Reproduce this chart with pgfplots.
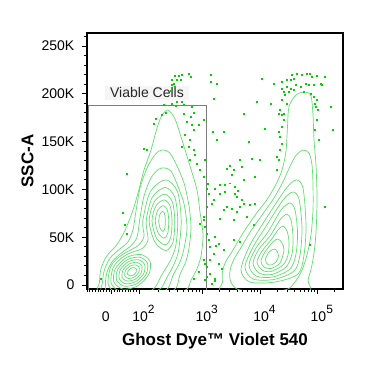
\documentclass[border=0pt]{standalone}
\usepackage{fontspec}
\setmainfont{Liberation Sans}
\usepackage{pgfplots}
\pgfplotsset{compat=1.18}
\definecolor{cont}{RGB}{95,224,110}
\definecolor{dotc}{RGB}{0,210,0}
\definecolor{gatec}{RGB}{125,125,125}
\newcommand{\dexp}[1]{10\raisebox{8.5pt}{\fontsize{12}{12}\selectfont #1}}
\begin{document}
\begin{tikzpicture}
\useasboundingbox (-87pt,-81pt) rectangle (288pt,289pt);
\begin{axis}[
  at={(0pt,0pt)}, anchor=south west,
  scale only axis, width=256pt, height=256pt,
  xmin=0, xmax=256, ymin=-4.18, ymax=263.5,
  axis line style={line width=1.1pt, black},
  tick pos=left, tick align=outside,
  major tick length=4.5pt, minor tick length=3pt,
  every tick/.style={black, line width=0.8pt},
  xtick={24.7,52,115.3,173,230.3},
  xticklabels={{0\hspace*{12pt}},{\hspace*{9pt}\dexp{2}},{\hspace*{9pt}\dexp{3}},{\hspace*{9pt}\dexp{4}},{\hspace*{9pt}\dexp{5}}},
  minor xtick={0.2,2.9,5.6,8.3,11.1,13.8,16.5,19.2,22.0,27.4,30.2,32.9,35.6,38.4,41.1,43.8,46.5,49.3,71.1,82.2,90.1,96.2,101.3,105.5,109.2,112.4,132.7,142.8,150.0,155.6,160.2,164.1,167.4,170.4,190.2,200.3,207.5,213.1,217.6,221.4,224.7,227.7,247.5},
  ytick={0,50,100,150,200,250},
  yticklabels={0,50K,100K,150K,200K,250K},
  minor ytick={10,20,30,40,60,70,80,90,110,120,130,140,160,170,180,190,210,220,230,240,260},
  tick label style={font=\fontsize{14}{14}\selectfont, inner sep=0pt},
  xticklabel style={anchor=base, yshift=-28pt},
  yticklabel style={anchor=east, xshift=-8pt},
  every axis x label/.style={at={(axis description cs:0.5,-0.21875)}, anchor=base, font=\fontsize{17}{17}\selectfont\bfseries},
  every axis y label/.style={at={(axis description cs:-0.2098,0.5)}, rotate=90, anchor=base, font=\fontsize{17}{17}\selectfont\bfseries},
  xlabel={Ghost Dye™ Violet 540},
  ylabel={SSC-A},
  cycle list={{cont, line width=0.7pt, smooth cycle}},
]
% ---- left population: outer contours
\addplot[cont, line width=0.7pt, smooth cycle] coordinates {(81,183.0) (88,173.6) (95,151.6) (103,124.4) (110,99.3) (113,76.3) (116,52.3) (114,30.3) (110,17) (104,5) (97,-6) (60,-9) (13,-9) (12.5,3) (14,17) (19.5,30) (29,41) (37,55) (45,75.3) (51,96.2) (57,120.2) (64,141.1) (70,164.1) (75,177.7)};
\addplot[cont, line width=0.7pt, smooth cycle] coordinates {(77,141.1) (83,138.0) (90,124.4) (97,106.6) (102,82.6) (104,59.6) (102,38.7) (99,25) (93,11) (86,-6) (50,-9) (16,-9) (15.5,3) (17.5,16) (23,28) (32,37) (41,45) (46,58) (49,77.3) (53,101.3) (60,122.3) (67,134.9) (72,140.1)};
\addplot[cont, line width=0.7pt, smooth cycle] coordinates {(78,122.3) (84,119.2) (90,105.6) (97,85) (100,60) (97,38) (93,24) (86,10) (78,-6) (45,-9) (21,-8.4) (18.5,3) (20.5,15) (26,25.5) (35,34) (44,41) (50,50) (53,70) (57,93) (64,112) (72,121.3)};
% ---- merged contours (both live peaks)
\addplot[cont, line width=0.7pt, smooth cycle] coordinates {(78.8,110) (90.5,97.5) (94.2,67) (91.5,35.8) (87,22) (80,8) (70,-6) (33.4,-9) (21.4,0.1) (23.3,17.9) (29.5,27) (37.8,33.3) (46,38) (52,42) (57,51) (55.8,67) (63.3,97.5)};
\addplot[cont, line width=0.7pt, smooth cycle] coordinates {(78.2,102) (87.8,91.9) (90.8,67) (88.6,40) (83,25) (75,11) (64,-6) (34.8,-7) (24.2,1.7) (25.8,17.3) (31.5,25.5) (38.7,31.1) (47,35) (55,38) (61,47) (59.2,67) (65.4,91.9)};
% ---- upper live peak
\addplot[cont, line width=0.7pt, smooth cycle] coordinates {(75.7,77) (77.7,74.1) (78.3,67) (77.8,59.2) (76,56) (73.2,59.2) (71.7,67) (73,74.1)};
\addplot[cont, line width=0.7pt, smooth cycle] coordinates {(76.3,83) (80.4,78.4) (81.7,67) (80.8,54.2) (77,49) (71.2,54.2) (68.3,67) (70.9,78.4)};
\addplot[cont, line width=0.7pt, smooth cycle] coordinates {(77,89) (83.1,82.6) (85,67) (83.6,49.2) (78,42) (69.4,49.2) (65,67) (68.9,82.6)};
\addplot[cont, line width=0.7pt, smooth cycle] coordinates {(77.6,95) (85.4,86.9) (87.8,67) (86.0,45.0) (78.8,36) (67.8,45.0) (62.2,67) (67.2,86.9)};
% ---- lower live peak
\addplot[cont, line width=0.7pt, smooth cycle] coordinates {(49.5,16.5) (47.3,18.2) (43.7,17.4) (40.9,14.4) (40.5,11.3) (42.7,9.6) (46.3,10.4) (49.1,13.4)};
\addplot[cont, line width=0.7pt, smooth cycle] coordinates {(52.3,18.2) (48.6,21.0) (42.9,19.7) (38.4,15.0) (37.8,9.6) (41.4,6.8) (47.1,8.1) (51.6,12.8)};
\addplot[cont, line width=0.7pt, smooth cycle] coordinates {(55.0,19.8) (50.0,23.7) (42.0,21.9) (35.9,15.5) (35.0,8.0) (40.0,4.1) (48.0,5.9) (54.1,12.3)};
\addplot[cont, line width=0.7pt, smooth cycle] coordinates {(57.7,21.3) (51.3,26.5) (41.2,24.2) (33.3,15.9) (32.3,6.5) (38.7,1.3) (48.8,3.6) (56.7,11.9)};
\addplot[cont, line width=0.7pt, smooth cycle] coordinates {(60.4,23.0) (52.6,29.1) (40.4,26.5) (30.8,16.4) (29.6,4.9) (37.4,-1.3) (49.7,1.3) (59.2,11.4)};
\addplot[cont, line width=0.7pt, smooth cycle] coordinates {(63.1,24.6) (53.9,31.9) (39.5,28.8) (28.3,16.9) (26.9,3.2) (36.1,-4.3) (50.5,-1.0) (61.7,10.9)};
% ---- dead population
\addplot[cont, line width=0.7pt, smooth cycle] coordinates {(218,201.8) (224,197.6) (226,177.7) (227,151.6) (229,125.5) (230,94.1) (229.5,65.9) (228,41.8) (225,20.9) (221,5.2) (218,-8.4) (138,-8.4) (135.5,3) (135.5,14) (139,25) (146,36.6) (156,54.4) (169.7,75.3) (179.7,88.9) (189.7,106.6) (195.5,122) (199,140) (200.5,165.5) (202,186.4) (209,198.7)};
\addplot[cont, line width=0.7pt, smooth cycle] coordinates {(216,141.1) (222,137.9) (225,125.5) (226,104.5) (226,78.4) (224,52.3) (220,31.4) (215,15.7) (208,3.1) (198,-5.2) (165,-6.3) (150,-4.2) (143.5,4) (143,15) (147,27) (154,39) (163.5,56) (177,76) (187,91) (196,108) (203,124) (209,135.5)};
\addplot[cont, line width=0.7pt, smooth cycle] coordinates {(209,109.8) (216,101.4) (219,62.7) (217,31.4) (211,11.5) (188,3.1) (163,3.1) (154,15.7) (162,39.7) (175,62.7) (198,99.3)};
\addplot[cont, line width=0.7pt, smooth cycle] coordinates {(206,97.2) (212,89.9) (215,59.6) (213,31.4) (207,14.6) (187,5.8) (166,6.3) (158,18.8) (166,39.7) (178,59.6) (196,88.9)};
\addplot[cont, line width=0.7pt, smooth cycle] coordinates {(203,85.7) (208,78.4) (210.5,55.4) (209,32.4) (203,16.7) (186,8.4) (169,9.4) (162,20.9) (169,38.7) (181,55.4) (194,78.4)};
\addplot[cont, line width=0.7pt, smooth cycle] coordinates {(200,74.2) (204,68.0) (206,51.2) (205,32.4) (199,18.8) (185,11.0) (172,12.5) (166,23.0) (172,37.6) (183,51.2) (193,68.0)};
\addplot[cont, line width=0.7pt, smooth cycle] coordinates {(196,61.7) (200,56.5) (202,45.0) (201,31.4) (196,20.9) (184,14.1) (175,15.7) (170,24.0) (175,35.5) (184,47.0) (191,57.5)};
\addplot[cont, line width=0.7pt, smooth cycle] coordinates {(191,48.1) (195,43.9) (197,36.6) (193,23.0) (184,17.3) (177,18.8) (174,25.1) (178,34.5) (186,45.0)};
\addplot[cont, line width=0.7pt, smooth cycle] coordinates {(187,37.6) (190,35.5) (191.5,30.3) (189,24.0) (184,20.9) (180,22.0) (178.5,27.2) (182,34.5)};
% ---- outlier events
\addplot[only marks, mark=square*, mark size=0.45pt, dotc, mark options={draw=none, fill=dotc}] coordinates {
(88,219.0) (91.5,219.0) (95,219.6) (101.7,221.3) (85,214.3) (90,214.3) (93.3,214.3) (86.7,210.9) (84.7,209.1) (88,207.3)
(83.3,202.8) (104,217.5) (123.3,220.3) (123.3,212.5) (130,210.1) (126.7,195.2) (90,191.6) (95,191.6) (76.7,188.2) (85,190.0)
(88.3,187.1) (96.7,188.2) (78.3,180.1) (75,177.7) (68.3,174.3) (66.7,169.1) (96.3,179.5) (103.3,176.0) (106.7,180.1) (100,170.7)
(116.7,173.2) (111.7,167.3) (104.7,186.4) (56.3,142.9) (59.7,141.1) (39.7,116.1) (35.3,75.6) (38,62.7) (39.7,54.1) (13.3,6.3)
(104.7,167.3) (106.3,162.1) (98,156.8) (103,151.6) (101.3,144.6) (106.3,141.1) (108,135.9) (103,130.7) (109.7,127.2) (113,120.2)
(116.3,113.2) (119.7,101.1) (121.3,95.9) (124.7,85.4) (116.3,71.4) (113,64.5) (118,61.0) (119.7,54.1) (121.3,47.0) (123,40.0)
(126.3,33.1) (116.3,26.1) (119.7,19.1) (123,12.2) (128,7.0) (111.3,13.9) (106.3,7.0) (118,5.2) (94.7,144.6) (118,130.7)
(169.7,191.6) (184,190.0) (156.3,178.8) (177.3,163.8) (161.3,149.8) (136.3,160.3) (125.3,160.3) (129.7,151.6) (153,130.7) (154.7,123.7)
(164.7,132.5) (168,113.2) (173,130.7) (139.7,122.0) (143,124.5) (146.3,120.5) (144.7,115.0) (138,104.6) (143,106.5) (148,103.0)
(133,104.6) (156.3,109.8) (128,101.1) (133,95.9) (138,97.5) (150.3,99) (148,95.9) (149.7,92.3) (154.7,88.9) (139.7,81.9)
(144.7,80.2) (149.7,76.6) (153,81.9) (156.3,85.4) (163,83.6) (136.3,78.4) (168,85.4) (133,69.7) (146.3,68.0) (159.7,71.4)
(166.3,62.7) (121,106) (126.3,88.9) (119.7,81.9) (116.3,68.0) (128,50.5) (129,41) (131.3,43.6) (146.3,47.0) (153,45.3)
(136.3,36.6) (123,26.1) (131.3,22.7) (134.7,17.5) (119.7,8.7) (128,4.2) (124.7,1.0) (118,22.7) (175,216.1) (187,210.9)
(194.7,212.5) (199.7,214.3) (204.7,219.6) (209.7,221.3) (214.7,219.6) (223,220.6) (229.7,218.5) (238,217.8) (234.7,209.1) (226.3,209.1)
(196.3,202.1) (198,198.6) (194.7,193.4) (199.7,190.0) (193,183.0) (194.7,177.7) (196.3,172.5) (194.7,165.5) (191.3,160.3) (193,155.0)
(194.7,148.1) (193,141.1) (191.3,130.7) (228,190.0) (229.7,172.5) (228,162.1) (243.7,186.4) (245.7,162.1) (238,81.9) (223,41.8)
(203.3,214.3) (206.7,216.1) (220,221.3) (225,217.8) (195,205.6) (200,207.3) (203.3,205.6) (208.3,209.1) (213.3,207.3) (218.3,210.9)
(221.7,209.1) (233.3,210.9) (201.7,202.1) (206.7,203.9) (216.7,202.1) (223.3,200.4) (226.7,196.9) (230,193.4) (228.3,186.4) (196.7,179.5)
(191.7,179.5) (231,183.0) (232,151.6) (189.7,134.1) (190,120.2)
};
% ---- gate
\addplot[gatec, line width=0.9pt] coordinates {(1.5,-10) (1.5,188.2) (119,188.2) (119,-10)};
\node[anchor=base, fill=black!4, inner xsep=5pt, inner ysep=2pt, font=\fontsize{14}{14}\selectfont, text=black!85] at (axis cs:60,195.8) {Viable Cells};
\end{axis}
\end{tikzpicture}
\end{document}
